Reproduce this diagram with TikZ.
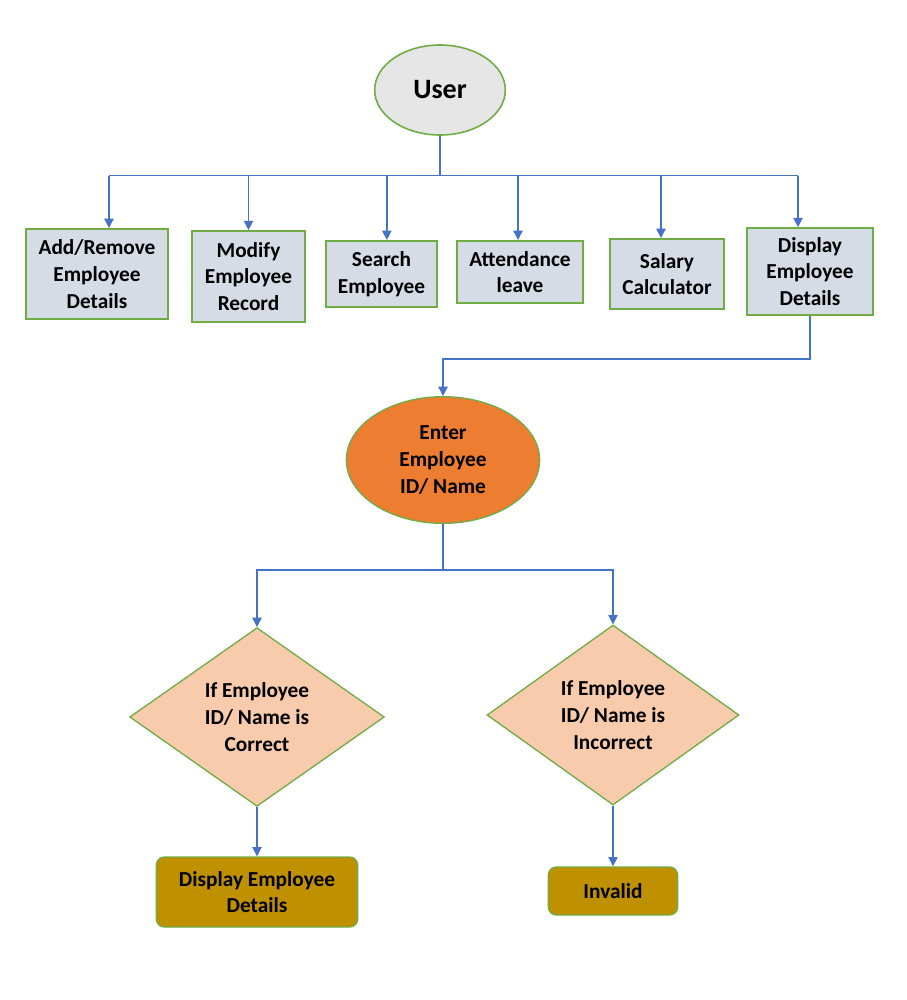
\documentclass[tikz,border=0pt]{standalone}
\usepackage{fontspec}
\setmainfont{Carlito}
\usetikzlibrary{shapes.geometric,arrows.meta}

\definecolor{linkblue}{HTML}{4472C4}
\definecolor{edgegreen}{HTML}{70AD47}
\definecolor{boxgray}{HTML}{D6DCE5}
\definecolor{usergray}{HTML}{E7E6E6}
\definecolor{enterorange}{HTML}{ED7D31}
\definecolor{checkpeach}{HTML}{F8CBAD}
\definecolor{resultgold}{HTML}{BF9000}

\tikzset{
  menubox/.style={draw=edgegreen, line width=1.5pt, fill=boxgray, align=center, inner sep=0pt},
  check/.style={diamond, draw=edgegreen, line width=1pt, fill=checkpeach, align=center, inner sep=0pt},
  result/.style={draw=edgegreen, line width=1pt, fill=resultgold, rounded corners=6pt, align=center, inner sep=0pt},
  link/.style={draw=linkblue, line width=1pt},
  arr/.style={link, -{Triangle[width=7pt,length=7pt]}}
}

\begin{document}
\begin{tikzpicture}[x=0.75pt, y=-0.75pt, font=\fontsize{16}{20}\selectfont\bfseries]
\useasboundingbox (0,0) rectangle (907,1000);

\node (user) at (440,90)[ellipse, draw=edgegreen, line width=1.2pt, fill=usergray, minimum width=98pt, minimum height=67.5pt, inner sep=0pt, font=\fontsize{21}{25}\selectfont\bfseries] {User};

\node (b1) at (97,274)[menubox, minimum width=106.5pt, minimum height=67.5pt] {Add/Remove\\Employee\\Details};
\node (b2) at (248.5,276.5)[menubox, minimum width=85pt, minimum height=68pt] {Modify\\Employee\\Record};
\node (b3) at (381.5,274)[menubox, minimum width=83pt, minimum height=49.5pt] {Search\\Employee};
\node (b4) at (520,272)[menubox, minimum width=94.5pt, minimum height=46.5pt] {Attendance\\leave};
\node (b5) at (667,274)[menubox, minimum width=85.5pt, minimum height=52.5pt] {Salary\\Calculator};
\node (b6) at (810,271.5)[menubox, minimum width=94.5pt, minimum height=65pt] {Display\\Employee\\Details};

\node (enter) at (443,460)[ellipse, draw=edgegreen, line width=1pt, fill=enterorange, minimum width=145pt, minimum height=95pt, inner sep=0pt, align=center] {Enter\\Employee\\ID/ Name};

\node (ok) at (257,717)[check, minimum width=191pt, minimum height=134pt] {If Employee\\ID/ Name is\\Correct};
\node (bad) at (613,715)[check, minimum width=189pt, minimum height=135pt] {If Employee\\ID/ Name is\\Incorrect};

\node (show) at (257,892)[result, minimum width=151pt, minimum height=52.5pt] {Display Employee\\Details};
\node (invalid) at (613,891)[result, minimum width=97pt, minimum height=36pt] {Invalid};

% user menu
\draw[link] (user.south) -- ++(0,40) coordinate (bus);
\path ([xshift=9pt]b1.north) coordinate (busL) ([xshift=-9pt]b6.north) coordinate (busR);
\draw[link] (bus -| busL) -- (bus -| busR);
\foreach \b/\s in {b1/9, b2/0, b3/4, b4/-1.5, b5/-4.5, b6/-9}{
  \path ([xshift=\s pt]\b.north) coordinate (tip);
  \draw[arr] (tip |- bus) -- (tip);
}

% display flow
\draw[arr] (b6.south) -- ++(0,43) -| (enter.north);
\draw[link] (enter.south) -- ++(0,46) coordinate (split);
\draw[arr] (split) -| (ok.north);
\draw[arr] (split) -| (bad.north);
\draw[arr] (ok.south) -- (show.north);
\draw[arr] (bad.south) -- (invalid.north);
\end{tikzpicture}
\end{document}
